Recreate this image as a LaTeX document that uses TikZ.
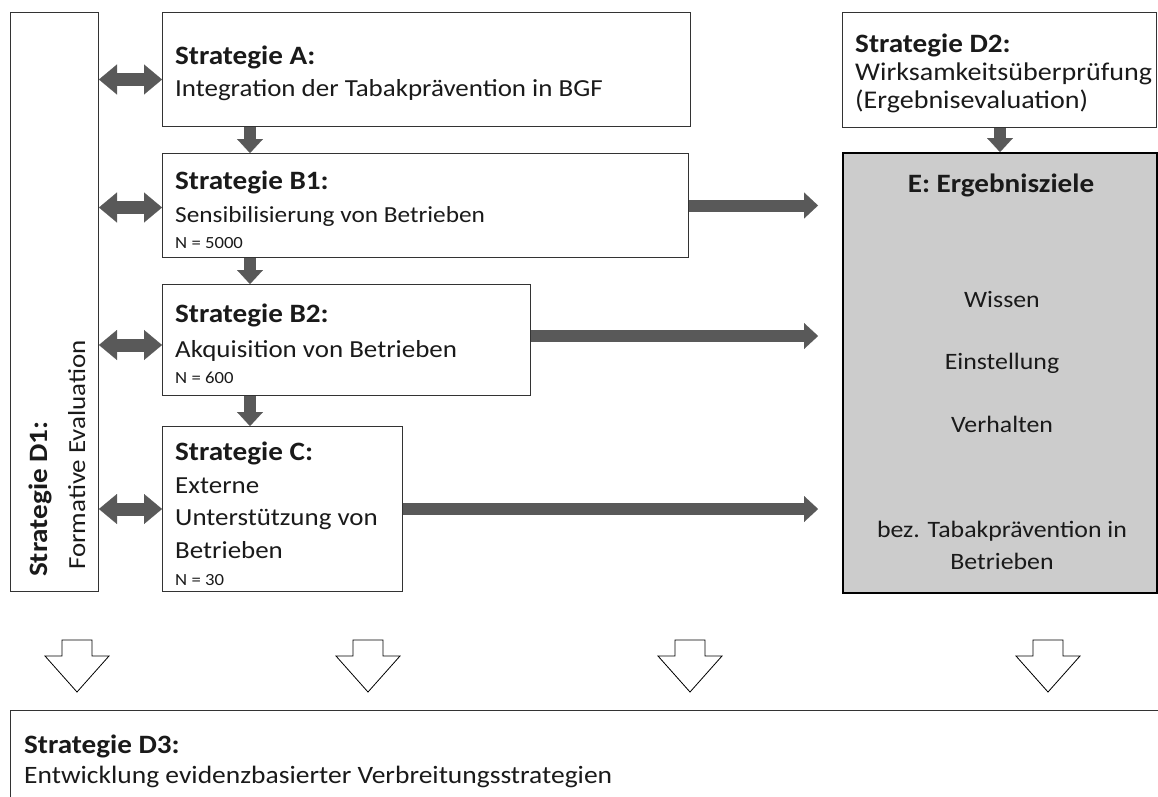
\documentclass[tikz,border=0pt]{standalone}
\usepackage{fontspec}
\setmainfont{Carlito}[FakeStretch=1.1]
\usetikzlibrary{arrows.meta}
\definecolor{arr}{HTML}{595959}
\definecolor{efill}{HTML}{CCCCCC}
\definecolor{edge}{HTML}{333333}
\definecolor{ink}{HTML}{1A1A1A}
\begin{document}
\begin{tikzpicture}[x=1pt,y=-1pt,
  box/.style={draw=edge, line width=1pt, fill=white, inner sep=0pt, anchor=north west},
  ttl/.style={anchor=base west, inner sep=0pt, text=ink, font=\fontsize{26.5}{30}\selectfont\bfseries},
  txt/.style={anchor=base west, inner sep=0pt, text=ink, font=\fontsize{24.5}{30}\selectfont},
  btxt/.style={anchor=base west, inner sep=0pt, text=ink, font=\fontsize{23}{28}\selectfont},
  dtxt/.style={anchor=base west, inner sep=0pt, text=ink, font=\fontsize{25.5}{30}\selectfont},
  ftxt/.style={anchor=base west, inner sep=0pt, text=ink, font=\fontsize{25}{30}\selectfont},
  ctxt/.style={anchor=base, inner sep=0pt, text=ink, font=\fontsize{23.5}{28}\selectfont},
  sml/.style={anchor=base west, inner sep=0pt, text=ink, font=\fontsize{17}{20}\selectfont},
  flow/.style={draw=arr, line width=12pt, -{Triangle[width=26pt,length=14pt,line width=0.1pt]}},
  dbl/.style={draw=arr, line width=13pt, {Triangle[width=30pt,length=18pt,line width=0.1pt]}-{Triangle[width=30pt,length=18pt,line width=0.1pt]}},
  hollow/.pic={\draw[fill=white, line width=0.8pt, line join=miter] (-15,0) -- (15,0) -- (15,16) -- (32,16) -- (0,52) -- (-32,16) -- (-15,16) -- cycle;}
]
\useasboundingbox[fill=white] (0,0) rectangle (1158,796);

% boxes
\node[box, minimum width=88pt, minimum height=579pt] (D1) at (10,12) {};
\node[box, minimum width=528pt, minimum height=114pt] (A) at (162,12) {};
\node[box, minimum width=526pt, minimum height=104pt] (B1) at (162,153) {};
\node[box, minimum width=368pt, minimum height=111pt] (B2) at (162,284) {};
\node[box, minimum width=240pt, minimum height=165pt] (C) at (162,426) {};
\node[box, minimum width=314pt, minimum height=115pt] (D2) at (842,12) {};
\node[box, fill=efill, draw=black, line width=2.2pt, minimum width=314pt, minimum height=440pt] (E) at (842,152) {};
\node[box, minimum width=1150pt, minimum height=100pt] (D3) at (10,710) {};

% texts
\node[ttl, rotate=90] (d1t) at (47,577) {Strategie D1:};
\node[txt, rotate=90] (d1b) at (85,570) {Formative Evaluation};

\node[ttl] (at) at (175,64) {Strategie A:};
\node[txt] (ab) at (175,96) {Integration der Tabakprävention in BGF};

\node[ttl] (b1t) at (175,189) {Strategie B1:};
\node[btxt] (b1b) at (175,222) {Sensibilisierung von Betrieben};
\node[sml] (b1n) at (175,248) {N = 5000};

\node[ttl] (b2t) at (175,322) {Strategie B2:};
\node[txt] (b2b) at (175,357) {Akquisition von Betrieben};
\node[sml] (b2n) at (175,383) {N = 600};

\node[ttl] (ct) at (175,460) {Strategie C:};
\node[txt] (c1) at (175,493) {Externe};
\node[txt] (c2) at (175,525) {Unterstützung von};
\node[txt] (c3) at (175,558) {Betrieben};
\node[sml] (cn) at (175,585) {N = 30};

\node[ttl] (d2t) at (855,52) {Strategie D2:};
\node[dtxt] (d2a) at (855,80) {Wirksamkeitsüberprüfung};
\node[dtxt] (d2b) at (855,108) {(Ergebnisevaluation)};

\node[ttl, anchor=base] (et) at (1001,192) {E: Ergebnisziele};
\node[ctxt] (e1) at (1002,307) {Wissen};
\node[ctxt] (e2) at (1002,369) {Einstellung};
\node[ctxt] (e3) at (1002,432) {Verhalten};
\node[ctxt] (e4) at (1002,537) {bez. Tabakprävention in};
\node[ctxt] (e5) at (1002,569) {Betrieben};

\node[ttl] (d3t) at (24,753) {Strategie D3:};
\node[ftxt] (d3b) at (24,783) {Entwicklung evidenzbasierter Verbreitungsstrategien};

% vertical flow arrows
\draw[flow] ([xshift=88pt]A.south west) -- ([xshift=88pt]B1.north west);
\draw[flow] ([xshift=88pt]B1.south west) -- ([xshift=88pt]B2.north west);
\draw[flow] ([xshift=88pt]B2.south west) -- ([xshift=88pt]C.north west);
\draw[flow] ([xshift=158pt]D2.south west) -- ([xshift=158pt]E.north west);

% horizontal arrows to E
\draw[flow, shorten >=24pt] (B1.east) -- (B1.east -| E.west);
\draw[flow, shorten >=24pt] ([yshift=4pt]B2.east) -- ([yshift=4pt]B2.east -| E.west);
\draw[flow, shorten >=24pt] (C.east) -- (C.east -| E.west);

% double arrows
\coordinate (pa) at ([yshift=-10pt]A.west);
\coordinate (pb1) at ([yshift=-2pt]B1.west);
\coordinate (pb2) at ([yshift=-5pt]B2.west);
\coordinate (pc) at (C.west);
\draw[dbl] (pa -| D1.east) -- (pa);
\draw[dbl] (pb1 -| D1.east) -- (pb1);
\draw[dbl] (pb2 -| D1.east) -- (pb2);
\draw[dbl] (pc -| D1.east) -- (pc);

% hollow arrows to D3
\pic at (77,640) {hollow};
\pic at (368,640) {hollow};
\pic at (690,640) {hollow};
\pic at (1048,640) {hollow};
\end{tikzpicture}
\end{document}
